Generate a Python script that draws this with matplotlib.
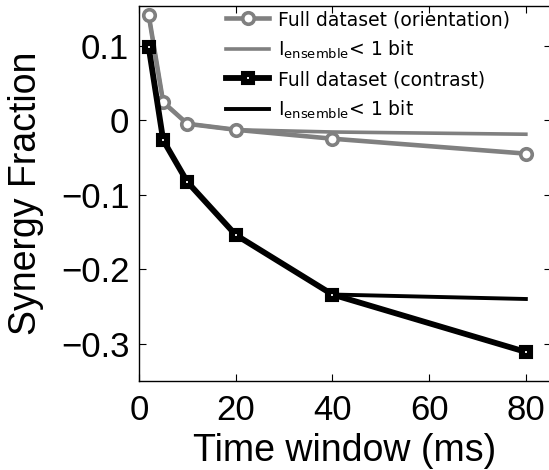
import matplotlib
matplotlib.use('Agg')
import matplotlib.pyplot as plt

# Synergy fraction vs. analysis time window
time_ms = [2, 5, 10, 20, 40, 80]
orient_full = [0.141, 0.024, -0.005, -0.013, -0.025, -0.045]
orient_thresh = [0.141, 0.024, -0.005, -0.013, -0.016, -0.019]
contrast_full = [0.098, -0.027, -0.083, -0.154, -0.234, -0.311]
contrast_thresh = [0.098, -0.027, -0.083, -0.154, -0.234, -0.240]

labels = ['Full dataset (orientation)', 'I$_{\\mathrm{ensemble}}$< 1 bit',
          'Full dataset (contrast)', 'I$_{\\mathrm{ensemble}}$< 1 bit']

plt.rcParams['font.family'] = ['Liberation Sans', 'DejaVu Sans']
plt.rcParams['mathtext.fontset'] = 'dejavusans'

gray = '#808080'
fig = plt.figure(figsize=(5.49, 4.70), dpi=100)
# right edge of the box sits just past the figure border
ax = fig.add_axes([139/549, 1 - 381/470, 412/549, (381 - 6)/470])

h2, = ax.plot(time_ms, orient_thresh, '-', color=gray, lw=2.6)
h1, = ax.plot(time_ms, orient_full, '-o', color=gray, lw=3.3,
              ms=8.3, mfc='white', mec=gray, mew=2.6)
h4, = ax.plot(time_ms, contrast_thresh, '-', color='black', lw=2.8)
h3, = ax.plot(time_ms, contrast_full, '-s', color='black', lw=4.2,
              ms=6.0, mfc='white', mec='black', mew=4.4)

ax.set_xlim(0, 85.2)
ax.set_ylim(-0.35, 0.153)
ax.set_xticks([0, 20, 40, 60, 80])
ax.set_yticks([-0.3, -0.2, -0.1, 0, 0.1])
ax.set_yticklabels(['\u22120.3', '\u22120.2', '\u22120.1', '0', '0.1'])
ax.tick_params(direction='in', length=5, width=0.8, top=True, right=True,
               labelsize=25)
ax.tick_params(axis='x', pad=9)
ax.tick_params(axis='y', pad=7)
for s in ax.spines.values():
    s.set_linewidth(1.0)

ax.set_xlabel('Time window (ms)', fontsize=27, labelpad=5)
ax.set_ylabel('Synergy Fraction', fontsize=27, labelpad=12)

leg = ax.legend([h1, h2, h3, h4], labels, loc='upper left',
                bbox_to_anchor=(226/549, 1 - 10/470), bbox_transform=fig.transFigure,
                frameon=False, handlelength=2.3, handletextpad=0.45,
                labelspacing=0.5, borderaxespad=0, borderpad=0,
                prop={'family': 'DejaVu Sans', 'size': 13.5})

fig.savefig('out.png', dpi=100)
